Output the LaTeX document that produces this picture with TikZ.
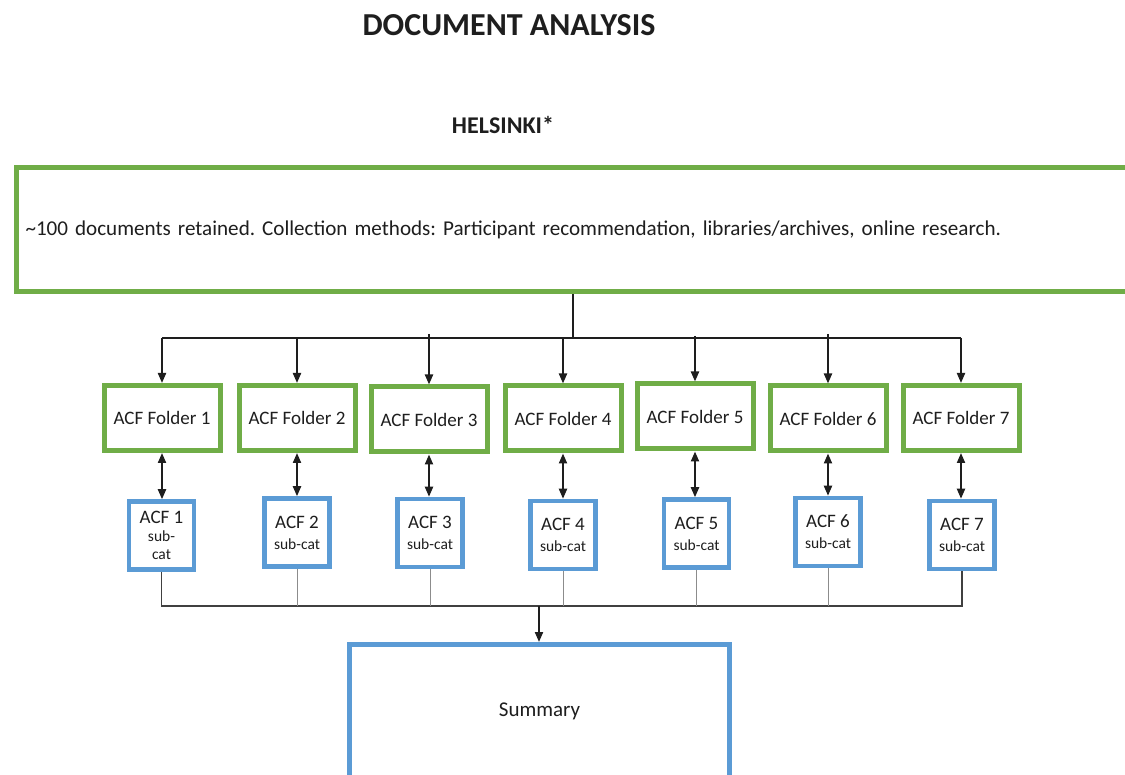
\documentclass[tikz,border=0pt]{standalone}
\usepackage{fontspec}
\setmainfont{Carlito}
\usetikzlibrary{arrows.meta}

\definecolor{leaf}{HTML}{70AD47}
\definecolor{sky}{HTML}{5B9BD5}
\definecolor{ink}{HTML}{1E1E1E}

\tikzset{
  srcbox/.style={draw=leaf, line width=5pt, anchor=north west, minimum width=1130pt,
    minimum height=124pt, text width=1111pt, inner xsep=9.5pt, align=left,
    font=\frenchspacing\fontsize{21.1}{24}\selectfont},
  folder/.style={draw=leaf, line width=5pt, minimum width=116pt, minimum height=65pt,
    inner sep=0pt, font=\fontsize{19}{23}\selectfont},
  subcat/.style={draw=sky, line width=4.5pt, minimum width=65pt, minimum height=68pt,
    inner sep=0pt, align=center, font=\fontsize{19}{21}\selectfont},
  sumbox/.style={draw=sky, line width=5pt, minimum width=380pt, minimum height=133pt,
    font=\fontsize{21}{25}\selectfont},
  feed/.style={line width=2pt, -{Triangle[length=10pt,width=8pt]}},
  link/.style={line width=2pt, {Triangle[length=10pt,width=8pt]}-{Triangle[length=10pt,width=8pt]}},
  rail/.style={line width=1.6pt, draw=ink!85},
  spur/.style={line width=1pt, draw=black!45},
}
\newcommand{\subsz}{\fontsize{15.5}{16}\selectfont}

\begin{document}
\begin{tikzpicture}[x=1pt, y=-1pt, color=ink, text=ink]
\clip (0,0) rectangle (1125,775);
\fill[white] (0,0) rectangle (1125,775);

\node[font=\bfseries\fontsize{32}{36}\selectfont] (title) at (509,25) {DOCUMENT ANALYSIS};
\node[font=\bfseries\fontsize{24}{28}\selectfont] (city) at (503,125) {HELSINKI*};

\node[srcbox] (src) at (13.5,165.5)
  {\textasciitilde100 documents retained. Collection methods: Participant recommendation, libraries/archives, online research.};

% ACF folders
\node[folder] (f1) at (162,418)   {ACF Folder 1};
\node[folder] (f2) at (297,418)   {ACF Folder 2};
\node[folder] (f3) at (429,419.5) {ACF Folder 3};
\node[folder] (f4) at (563,418.5) {ACF Folder 4};
\node[folder] (f5) at (695,416.5) {ACF Folder 5};
\node[folder] (f6) at (828,418.5) {ACF Folder 6};
\node[folder] (f7) at (961,418)   {ACF Folder 7};

% sub-categories
\node[subcat] (s1) at (161.5,535.5) {ACF 1\\[-3pt]{\subsz sub-}\\[-3pt]{\subsz cat}};
\node[subcat] (s2) at (297,532.5)   {ACF 2\\{\subsz sub-cat}};
\node[subcat] (s3) at (430,533)     {ACF 3\\{\subsz sub-cat}};
\node[subcat] (s4) at (563,535)     {ACF 4\\{\subsz sub-cat}};
\node[subcat] (s5) at (696.5,533.5) {ACF 5\\{\subsz sub-cat}};
\node[subcat] (s6) at (828,532)     {ACF 6\\{\subsz sub-cat}};
\node[subcat] (s7) at (962,535)     {ACF 7\\{\subsz sub-cat}};

\node[sumbox] (sum) at (539.5,711) {Summary};

% distribution from the source box
\coordinate (bus) at (573,338);
\coordinate (gather) at (539,606);
\draw[line width=2pt] (src.south -| bus) -- (bus);
\draw[line width=2pt] (f1.north |- bus) -- (f7.north |- bus);
\foreach \f in {f1,f2,f4,f7} \draw[feed] (\f.north |- bus) -- (\f.north);
\draw[feed] ([yshift=4pt]f3.north |- bus) -- (f3.north);
\draw[feed] ([yshift=2pt]f5.north |- bus) -- (f5.north);
\draw[feed] ([yshift=4pt]f6.north |- bus) -- (f6.north);

% folders to sub-categories
\foreach \i in {1,...,7} \draw[link] (f\i.south) -- (f\i.south |- s\i.north);

% collection into the summary
\draw[rail] (s1.south) -- (s1.south |- gather) -- (s7.south |- gather) -- (s7.south);
\foreach \i in {2,...,6} \draw[spur] (s\i.south) -- (s\i.south |- gather);
\draw[feed] (gather) -- (sum.north -| gather);
\end{tikzpicture}
\end{document}
